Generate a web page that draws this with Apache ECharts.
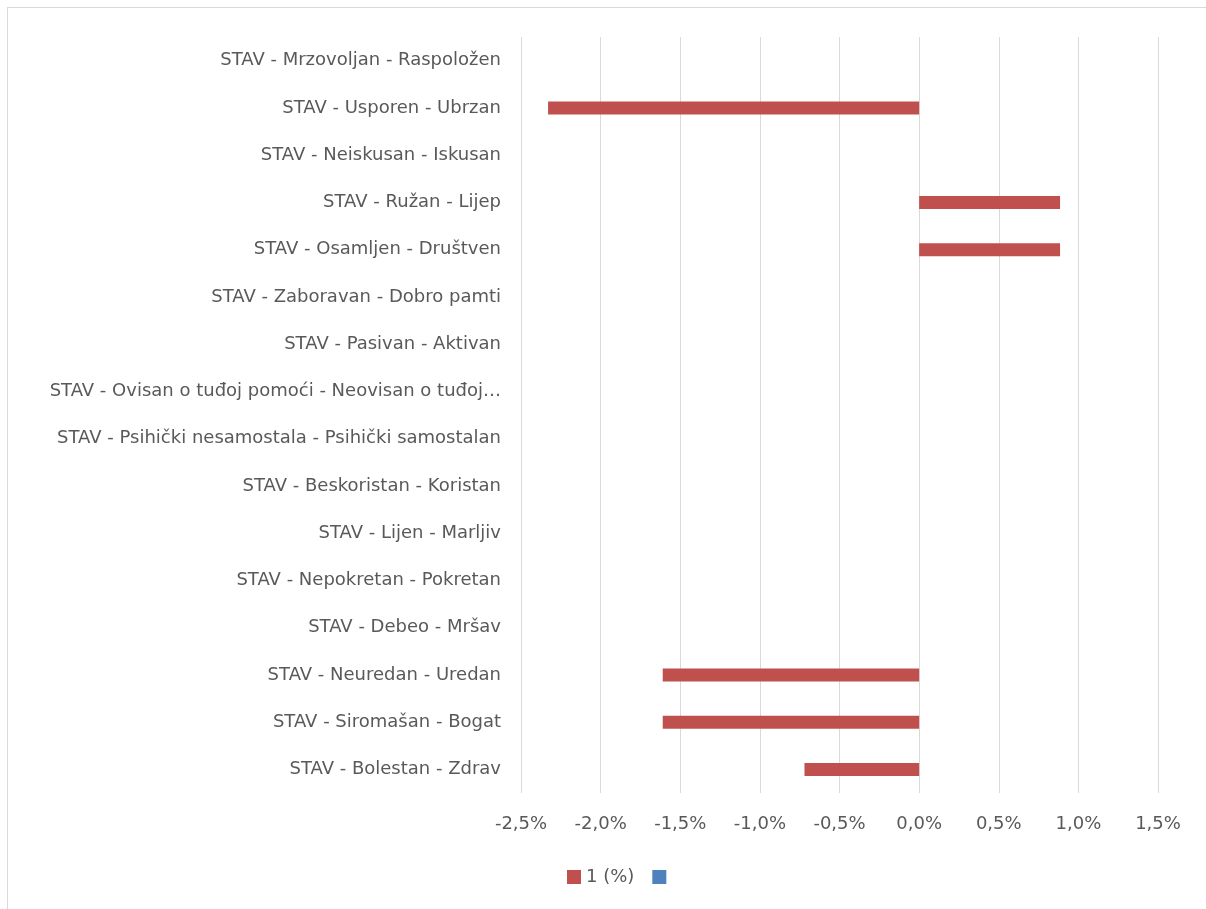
<!DOCTYPE html>
<html>
<head>
<meta charset="utf-8">
<script src="https://cdn.jsdelivr.net/npm/echarts@6/dist/echarts.min.js"></script>
<style>
    html, body { margin: 0; padding: 0; background: #fff; }
    #chart { width: 1206px; height: 909px; }
    #frame { position: absolute; left: 7px; top: 7px; width: 1300px; height: 1000px;
             border-left: 1px solid #d9d9d9; border-top: 1px solid #d9d9d9; pointer-events: none; }
</style>
</head>
<body>
<div id="chart"></div>
<div id="frame"></div>
<script>
    // categories, top to bottom
    const categories = [
        'STAV - Mrzovoljan - Raspoložen',
        'STAV - Usporen - Ubrzan',
        'STAV - Neiskusan - Iskusan',
        'STAV - Ružan - Lijep',
        'STAV - Osamljen - Društven',
        'STAV - Zaboravan - Dobro pamti',
        'STAV - Pasivan - Aktivan',
        'STAV - Ovisan o tuđoj pomoći - Neovisan o tuđoj pomoći',
        'STAV - Psihički nesamostala - Psihički samostalan',
        'STAV - Beskoristan - Koristan',
        'STAV - Lijen - Marljiv',
        'STAV - Nepokretan - Pokretan',
        'STAV - Debeo - Mršav',
        'STAV - Neuredan - Uredan',
        'STAV - Siromašan - Bogat',
        'STAV - Bolestan - Zdrav'
    ];
    // values in percent
    const series1 = [0, -2.33, 0, 0.885, 0.885, 0, 0, 0, 0, 0, 0, 0, 0, -1.61, -1.61, -0.72];
    const series2 = [];

    const fontFamily = 'DejaVu Sans';
    const textColor = '#595959';

    let myChart = echarts.init(document.getElementById('chart'));
    let option = {
        animation: false,
        textStyle: {fontFamily: fontFamily},
        legend: {
            bottom: 18,
            left: 562,
            itemWidth: 14,
            itemHeight: 14,
            itemGap: 18,
            icon: 'rect',
            textStyle: {color: textColor, fontSize: 18, fontFamily: fontFamily},
            data: ['1 (%)', ' ']
        },
        grid: {
            left: 521,
            right: 48,
            top: 37,
            bottom: 116
        },
        xAxis: {
            type: 'value',
            min: -2.5,
            max: 1.5,
            interval: 0.5,
            axisLine: {show: false},
            axisTick: {show: false},
            splitLine: {lineStyle: {color: '#d9d9d9', width: 1}},
            axisLabel: {
                color: textColor,
                fontSize: 18,
                margin: 22,
                formatter: v => v.toFixed(1).replace('.', ',') + '%'
            }
        },
        yAxis: {
            type: 'category',
            inverse: true,
            data: categories,
            axisLine: {show: false},
            axisTick: {show: false},
            axisLabel: {
                color: textColor,
                fontSize: 18,
                margin: 20,
                width: 472,
                overflow: 'truncate',
                ellipsis: '…'
            }
        },
        series: [
            {
                name: '1 (%)',
                type: 'bar',
                data: series1,
                barWidth: 13,
                barGap: '-100%',
                itemStyle: {color: '#c0504d'}
            },
            {
                name: ' ',
                type: 'bar',
                data: series2,
                barWidth: 13,
                itemStyle: {color: '#4f81bd'}
            }
        ]
    };
    myChart.setOption(option);
</script>
</body>
</html>
